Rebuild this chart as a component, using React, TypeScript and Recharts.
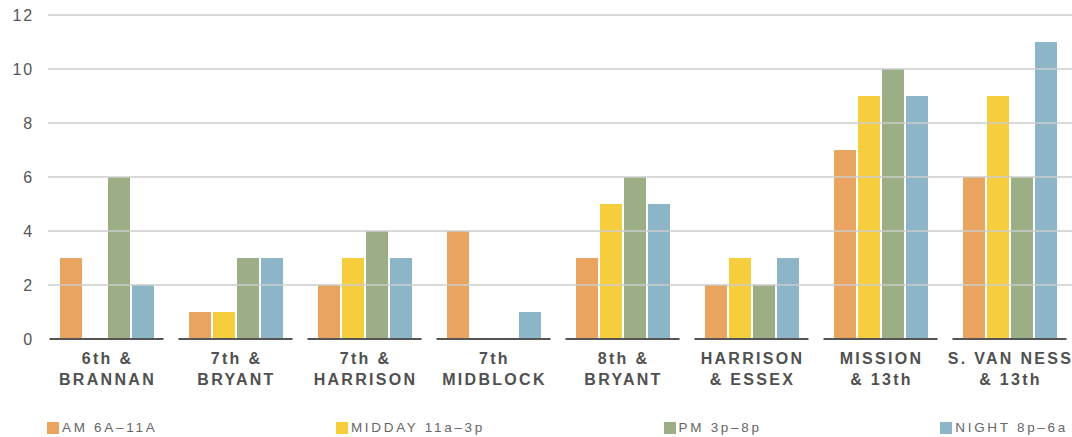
import React from "react";
import { BarChart, Bar, XAxis, YAxis } from "recharts";

const categories = [
  "6th &\nBRANNAN",
  "7th &\nBRYANT",
  "7th &\nHARRISON",
  "7th\nMIDBLOCK",
  "8th &\nBRYANT",
  "HARRISON\n& ESSEX",
  "MISSION\n& 13th",
  "S. VAN NESS\n& 13th",
];
const amValues = [3, 1, 2, 4, 3, 2, 7, 6];
const middayValues = [0, 1, 3, 0, 5, 3, 9, 9];
const pmValues = [6, 3, 4, 0, 6, 2, 10, 6];
const nightValues = [2, 3, 3, 1, 5, 3, 9, 11];
const yTicks = [0, 2, 4, 6, 8, 10, 12];
const seriesNames = ["AM 6A\u201311A", "MIDDAY 11a\u20133p", "PM 3p\u20138p", "NIGHT 8p\u20136a"];
const seriesColors = ["#E9A45F", "#F5CD3D", "#9CAE86", "#8CB6C8"];
const seriesKeys = ["am", "midday", "pm", "night"];

const data = categories.map((c, i) => ({
  name: c,
  am: amValues[i],
  midday: middayValues[i],
  pm: pmValues[i],
  night: nightValues[i],
}));

const VIEW_W = 1072;
const W = 1074;
const H = 437;
const LEFT = 42;
const BAND = (W - LEFT) / categories.length;

const XTick = (props: any) => {
  const { x, y, payload } = props;
  const lines = String(payload.value).split("\n");
  const half = (BAND - 15) / 2;
  return (
    <g>
      <line x1={x - half} x2={x + half} y1={y} y2={y} stroke="#555" strokeWidth={2} />
      {lines.map((l, i) => (
        <text
          key={i}
          x={x + 1}
          y={y + 25 + i * 21}
          textAnchor="middle"
          fill="#505050"
          fontFamily="Liberation Sans, Arial, sans-serif"
          fontWeight="bold"
          fontSize={16}
          letterSpacing={2.3}
        >
          {l}
        </text>
      ))}
    </g>
  );
};

const YTick = (props: any) => {
  const { y, payload } = props;
  return (
    <g>
      {payload.value !== 0 && (
        <line x1={48} x2={VIEW_W} y1={y} y2={y} stroke="#cccccc" strokeWidth={1.5} />
      )}
      <text
        x={34}
        y={y + 6}
        textAnchor="end"
        fill="#555"
        fontFamily="Liberation Sans, Arial, sans-serif"
        fontSize={16}
        letterSpacing={1.8}
      >
        {payload.value}
      </text>
    </g>
  );
};

export default function App() {
  return (
    <div
      style={{
        position: "absolute",
        left: 0,
        top: 0,
        width: VIEW_W,
        height: H,
        overflow: "hidden",
        background: "#fff",
      }}
    >
      <BarChart
        width={W}
        height={H}
        data={data}
        margin={{ top: 15, right: 0, left: 0, bottom: 0 }}
        barSize={22}
        barGap={2}
      >
        <YAxis
          width={LEFT}
          domain={[0, 12]}
          ticks={yTicks}
          axisLine={false}
          tickLine={false}
          tick={<YTick />}
          interval={0}
        />
        <XAxis
          dataKey="name"
          height={98}
          axisLine={false}
          tickLine={false}
          tickSize={0}
          tickMargin={0}
          interval={0}
          tick={<XTick />}
        />
        {seriesKeys.map((k, i) => (
          <Bar key={k} dataKey={k} name={seriesNames[i]} fill={seriesColors[i]} isAnimationActive={false} />
        ))}
      </BarChart>
      <div
        style={{
          position: "absolute",
          left: 47,
          width: 1068 - 47,
          top: 420,
          display: "flex",
          justifyContent: "space-between",
          fontFamily: "Liberation Sans, Arial, sans-serif",
          fontSize: 13.5,
          letterSpacing: 2.7,
          color: "#666",
        }}
      >
        {seriesNames.map((n, i) => (
          <div key={n} style={{ display: "flex", alignItems: "center", whiteSpace: "nowrap" }}>
            <span style={{ display: "inline-block", width: 12, height: 12, background: seriesColors[i], marginRight: 3 }} />
            <span style={{ lineHeight: "15px" }}>{n}</span>
          </div>
        ))}
      </div>
    </div>
  );
}
